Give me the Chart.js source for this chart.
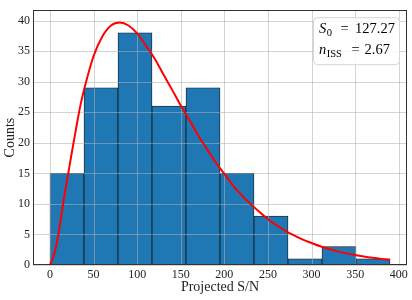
<!DOCTYPE html>
<html><head><meta charset="utf-8">
<script src="https://cdn.jsdelivr.net/npm/chart.js@4.4.0/dist/chart.umd.min.js"></script>
<style>html,body{margin:0;padding:0;background:#fff;}canvas{display:block;}</style>
</head><body>
<canvas id="c" width="412" height="300"></canvas>
<script>
// ---- data ----
const binEdges = [0, 39, 78, 117, 156, 195, 234, 273, 312, 351, 390];
const counts = [15, 29, 38, 26, 29, 15, 8, 1, 3, 1];
const curveX = [0, 5, 10, 15, 20, 25, 30, 35, 40, 50, 60, 70, 80, 90, 100, 110, 120, 130, 140, 150, 160, 170, 180, 190, 200, 210, 220, 230, 240, 250, 260, 270, 280, 290, 300, 310, 320, 330, 340, 350, 360, 370, 380, 390];
const curveY = [0, 1.9, 5.3, 10.0, 14.2, 18.4, 22.4, 26.2, 29.2, 34.2, 37.4, 39.2, 39.7, 39.2, 37.9, 35.9, 33.8, 31.2, 28.7, 26.1, 23.7, 21.2, 19.0, 16.8, 14.9, 13.0, 11.4, 10.0, 8.7, 7.5, 6.5, 5.6, 4.85, 4.15, 3.6, 3.06, 2.62, 2.23, 1.9, 1.62, 1.38, 1.17, 0.99, 0.85];
const xTickValues = [0, 50, 100, 150, 200, 250, 300, 350, 400];
const yTickValues = [0, 5, 10, 15, 20, 25, 30, 35, 40];
const xRange = [-19.5, 409.5];
const yRange = [0, 41.7];
const xTitle = 'Projected S/N';
const yTitle = 'Counts';
const legendRows = [
  { sym: 'S', sub: '0', val: '127.27' },
  { sym: 'n', sub: 'ISS', val: '2.67' }
];

const FONT = '"Liberation Serif", "Times New Roman", serif';

const barData = counts.map((c, i) => ({ x: (binEdges[i] + binEdges[i + 1]) / 2, y: c }));
const lineData = curveX.map((x, i) => ({ x: x, y: curveY[i] }));

const gridOverBars = {
  id: 'gridOverBars',
  afterDatasetDraw(chart, args) {
    if (args.index !== 1) return;
    const { ctx, chartArea: a, scales: { x, y } } = chart;
    ctx.save();
    ctx.strokeStyle = 'rgba(176,176,176,0.55)';
    ctx.lineWidth = 1;
    ctx.beginPath();
    x.ticks.forEach(t => {
      const px = Math.round(x.getPixelForValue(t.value)) + 0.5;
      ctx.moveTo(px, a.top); ctx.lineTo(px, a.bottom);
    });
    y.ticks.forEach(t => {
      const py = Math.round(y.getPixelForValue(t.value)) + 0.5;
      ctx.moveTo(a.left, py); ctx.lineTo(a.right, py);
    });
    ctx.stroke();
    ctx.restore();
  }
};

const framePlugin = {
  id: 'frameAndLegend',
  afterDraw(chart) {
    const { ctx, chartArea: a } = chart;
    ctx.save();
    // spines
    ctx.strokeStyle = '#333';
    ctx.lineWidth = 1;
    ctx.strokeRect(Math.round(a.left) + 0.5, Math.round(a.top) + 0.5,
      Math.round(a.right - a.left) - 1, Math.round(a.bottom - a.top) - 1);
    // legend box
    const bx = a.right - 93.5, by = a.top + 7.5, bw = 86, bh = 47, r = 4;
    ctx.beginPath();
    ctx.moveTo(bx + r, by);
    ctx.arcTo(bx + bw, by, bx + bw, by + bh, r);
    ctx.arcTo(bx + bw, by + bh, bx, by + bh, r);
    ctx.arcTo(bx, by + bh, bx, by, r);
    ctx.arcTo(bx, by, bx + bw, by, r);
    ctx.closePath();
    ctx.fillStyle = 'rgba(255,255,255,0.85)';
    ctx.fill();
    ctx.strokeStyle = '#d6d6d6';
    ctx.lineWidth = 1;
    ctx.stroke();
    // legend text
    ctx.fillStyle = '#000';
    ctx.textBaseline = 'alphabetic';
    const x0 = bx + 5.5;
    const base = [by + 15, by + 36];
    const eqCenter = [25.5, 36.5];
    const valStart = [36, 45.5];
    legendRows.forEach((row, i) => {
      ctx.textAlign = 'left';
      ctx.font = 'italic 14.5px ' + FONT;
      ctx.fillText(row.sym, x0, base[i]);
      const w = ctx.measureText(row.sym).width;
      ctx.font = '10.5px ' + FONT;
      ctx.fillText(row.sub, x0 + w + 0.5, base[i] + 3);
      ctx.font = '14.5px ' + FONT;
      ctx.textAlign = 'center';
      ctx.fillText('=', x0 + eqCenter[i], base[i]);
      ctx.textAlign = 'left';
      ctx.fillText(row.val, x0 + valStart[i], base[i]);
    });
    ctx.restore();
  }
};

new Chart(document.getElementById('c'), {
  type: 'bar',
  data: {
    datasets: [
      {
        type: 'line',
        data: lineData,
        borderColor: '#ff0000',
        borderWidth: 2,
        pointRadius: 0,
        fill: false,
        cubicInterpolationMode: 'monotone'
      },
      {
        type: 'bar',
        data: barData,
        backgroundColor: '#1f77b4',
        borderColor: 'rgba(0,0,0,0.9)',
        borderWidth: 0.8,
        barPercentage: 1,
        categoryPercentage: 1
      }
    ]
  },
  options: {
    responsive: false,
    animation: false,
    devicePixelRatio: 1,
    layout: { padding: { top: 5, right: 5, left: 0, bottom: 0 } },
    plugins: { legend: { display: false }, tooltip: { enabled: false } },
    scales: {
      x: {
        type: 'linear',
        offset: false,
        min: xRange[0], max: xRange[1],
        grid: { display: false, drawTicks: false },
        border: { display: false },
        afterBuildTicks: s => { s.ticks = xTickValues.map(v => ({ value: v })); },
        afterFit: s => { s.height = 35; },
        ticks: { color: '#222', font: { family: FONT, size: 12 }, padding: 3, maxRotation: 0, autoSkip: false },
        title: { display: true, text: xTitle, color: '#222', font: { family: FONT, size: 14 }, padding: { top: 0, bottom: 4 } }
      },
      y: {
        type: 'linear',
        min: yRange[0], max: yRange[1],
        grid: { display: false, drawTicks: false },
        border: { display: false },
        afterBuildTicks: s => { s.ticks = yTickValues.map(v => ({ value: v })); },
        afterFit: s => { s.width = 33; },
        ticks: { color: '#222', font: { family: FONT, size: 12 }, padding: 3, autoSkip: false },
        title: { display: true, text: yTitle, color: '#222', font: { family: FONT, size: 14 }, padding: { top: 2, bottom: 0 } }
      }
    }
  },
  plugins: [gridOverBars, framePlugin]
});
</script>
</body></html>
